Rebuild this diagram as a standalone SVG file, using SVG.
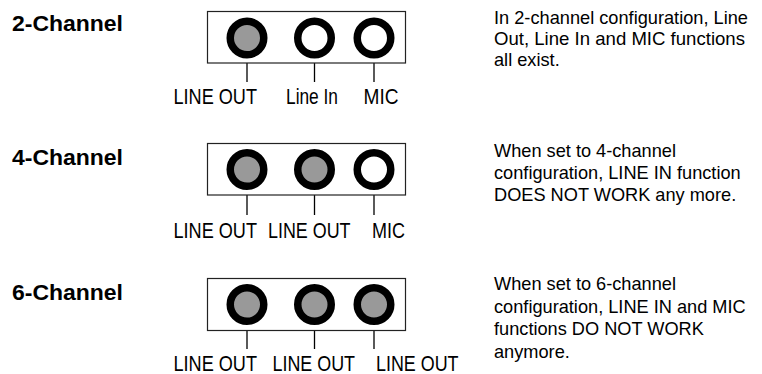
<svg xmlns="http://www.w3.org/2000/svg" width="762" height="374" viewBox="0 0 762 374">
<style>
.title{font-family:"Liberation Sans",Arial,sans-serif;font-weight:bold;font-size:22px;fill:#000}
.lbl{font-family:"Liberation Sans Narrow","Liberation Sans",Arial,sans-serif;font-size:22px;fill:#000}
.desc{font-family:"Liberation Sans",Arial,sans-serif;font-size:18.2px;fill:#000}
.box{fill:#fff;stroke:#222;stroke-width:1.2}
.jack{stroke:#000;stroke-width:7.5}
.on{fill:#999}
.off{fill:#fff}
.lead{stroke:#000;stroke-width:1.3;fill:none}
</style>
<rect width="762" height="374" fill="#fff"/>
<g id="conn">
<line class="lead" x1="247" y1="58" x2="247" y2="82"/>
<line class="lead" x1="314.5" y1="58" x2="314.5" y2="82"/>
<line class="lead" x1="374" y1="58" x2="374" y2="82"/>
<line class="lead" x1="247" y1="190" x2="247" y2="215"/>
<line class="lead" x1="314.5" y1="190" x2="314.5" y2="215"/>
<line class="lead" x1="374" y1="190" x2="374" y2="215"/>
<line class="lead" x1="247" y1="325" x2="247" y2="349"/>
<line class="lead" x1="314.5" y1="325" x2="314.5" y2="349"/>
<line class="lead" x1="374" y1="325" x2="374" y2="349"/>
</g>
<g id="ch2">
<text class="title" x="12" y="30.5" textLength="111" lengthAdjust="spacingAndGlyphs">2-Channel</text>
<rect class="box" x="207.5" y="11.5" width="198" height="51.5"/>
<circle class="jack on" cx="247" cy="38" r="16.75"/>
<circle class="jack off" cx="314.5" cy="38" r="16.75"/>
<circle class="jack off" cx="374" cy="38" r="16.75"/>
<text class="lbl" x="173.5" y="104" textLength="83.5" lengthAdjust="spacingAndGlyphs">LINE OUT</text>
<text class="lbl" x="286" y="104" textLength="52" lengthAdjust="spacingAndGlyphs">Line In</text>
<text class="lbl" x="363.5" y="104" textLength="35" lengthAdjust="spacingAndGlyphs">MIC</text>
<text class="desc" x="494" y="24" textLength="254" lengthAdjust="spacingAndGlyphs">In 2-channel configuration, Line</text>
<text class="desc" x="494" y="45" textLength="251" lengthAdjust="spacingAndGlyphs">Out, Line In and MIC functions</text>
<text class="desc" x="494" y="66">all exist.</text>
</g>
<g id="ch4">
<text class="title" x="12" y="165" textLength="111" lengthAdjust="spacingAndGlyphs">4-Channel</text>
<rect class="box" x="207.5" y="143.5" width="198" height="51.5"/>
<circle class="jack on" cx="247" cy="169.5" r="16.75"/>
<circle class="jack on" cx="314.5" cy="169.5" r="16.75"/>
<circle class="jack off" cx="374" cy="169.5" r="16.75"/>
<text class="lbl" x="173.5" y="238" textLength="83.5" lengthAdjust="spacingAndGlyphs">LINE OUT</text>
<text class="lbl" x="268" y="238" textLength="82.5" lengthAdjust="spacingAndGlyphs">LINE OUT</text>
<text class="lbl" x="372" y="238" textLength="33" lengthAdjust="spacingAndGlyphs">MIC</text>
<text class="desc" x="494" y="157">When set to 4-channel</text>
<text class="desc" x="494" y="179">configuration, LINE IN function</text>
<text class="desc" x="494" y="201">DOES NOT WORK any more.</text>
</g>
<g id="ch6">
<text class="title" x="12" y="300" textLength="111" lengthAdjust="spacingAndGlyphs">6-Channel</text>
<rect class="box" x="207.5" y="278.5" width="198" height="52"/>
<circle class="jack on" cx="247" cy="304.5" r="16.75"/>
<circle class="jack on" cx="314.5" cy="304.5" r="16.75"/>
<circle class="jack on" cx="374" cy="304.5" r="16.75"/>
<text class="lbl" x="173.5" y="370.5" textLength="83.5" lengthAdjust="spacingAndGlyphs">LINE OUT</text>
<text class="lbl" x="272.5" y="370.5" textLength="82.5" lengthAdjust="spacingAndGlyphs">LINE OUT</text>
<text class="lbl" x="376" y="370.5" textLength="82.5" lengthAdjust="spacingAndGlyphs">LINE OUT</text>
<text class="desc" x="494" y="290">When set to 6-channel</text>
<text class="desc" x="494" y="312.5">configuration, LINE IN and MIC</text>
<text class="desc" x="494" y="335">functions DO NOT WORK</text>
<text class="desc" x="494" y="357.5">anymore.</text>
</g>
</svg>
